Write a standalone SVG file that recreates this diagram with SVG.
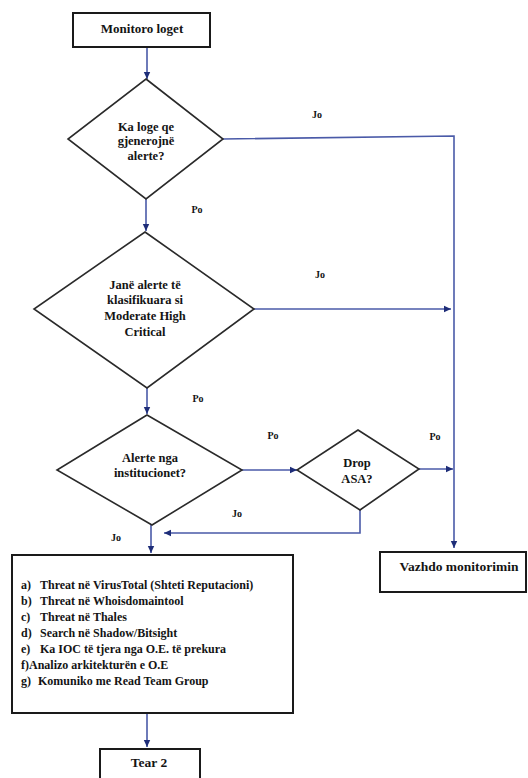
<svg xmlns="http://www.w3.org/2000/svg" width="528" height="778" viewBox="0 0 528 778">
<style>
.box{fill:#fff;stroke:#1a1a1a;stroke-width:2}
.dia{fill:#fff;stroke:#2a2a2a;stroke-width:1.6}
text{font-family:'Liberation Serif','Times New Roman',Times,'DejaVu Serif',serif;font-weight:bold;fill:#141414}
.c{text-anchor:middle}
.lbl{font-size:10px}
.dt{font-size:12.5px}
.con{fill:none;stroke:#4a5aa8;stroke-width:1.6}
</style>
<defs>
<marker id="ah" markerWidth="8" markerHeight="8" refX="7" refY="4" orient="auto" markerUnits="userSpaceOnUse">
<path d="M0,0.8 L7,4 L0,7.2 Z" fill="#1e2d78"/>
</marker>
</defs>
<rect width="528" height="778" fill="#fff"/>
<g id="connectors">
<line class="con" x1="147" y1="47" x2="147" y2="79" marker-end="url(#ah)"/>
<polyline class="con" points="223,139 454,136 454,548" marker-end="url(#ah)"/>
<line class="con" x1="146" y1="199" x2="146" y2="231" marker-end="url(#ah)"/>
<line class="con" x1="254" y1="309" x2="451" y2="309" marker-end="url(#ah)"/>
<line class="con" x1="147" y1="388" x2="147" y2="414" marker-end="url(#ah)"/>
<line class="con" x1="242" y1="470" x2="297" y2="470" marker-end="url(#ah)"/>
<line class="con" x1="419" y1="469" x2="453" y2="469" marker-end="url(#ah)"/>
<polyline class="con" points="360,510 360,533 164,533" marker-end="url(#ah)"/>
<line class="con" x1="151" y1="525" x2="151" y2="553" marker-end="url(#ah)"/>
<line class="con" x1="147" y1="714" x2="147" y2="747" marker-end="url(#ah)"/>
<text class="lbl c" x="317" y="118">Jo</text>
<text class="lbl c" x="197" y="213">Po</text>
<text class="lbl c" x="320" y="278">Jo</text>
<text class="lbl c" x="198" y="402">Po</text>
<text class="lbl c" x="273" y="439">Po</text>
<text class="lbl c" x="435" y="440">Po</text>
<text class="lbl c" x="237" y="517">Jo</text>
<text class="lbl c" x="116" y="541">Jo</text>
</g>
<g id="monitoro">
<rect class="box" x="73" y="13" width="137" height="34"/>
<text class="c" x="142" y="33" font-size="13">Monitoro loget</text>
</g>
<g id="d1">
<polygon class="dia" points="146,79 223,139 146,199 68,139"/>
<text class="c dt" x="146" y="131">Ka loge qe</text>
<text class="c dt" x="146" y="145">gjenerojnë</text>
<text class="c dt" x="146" y="160">alerte?</text>
</g>
<g id="d2">
<polygon class="dia" points="145,232 254,309 147,388 34,309"/>
<text class="c dt" x="145" y="289">Janë alerte të</text>
<text class="c dt" x="145" y="304">klasifikuara si</text>
<text class="c dt" x="145" y="320">Moderate High</text>
<text class="c dt" x="145" y="336">Critical</text>
</g>
<g id="d3">
<polygon class="dia" points="147,415 242,470 152,525 57,470"/>
<text class="c dt" x="150" y="462">Alerte nga</text>
<text class="c dt" x="150" y="477">institucionet?</text>
</g>
<g id="drop">
<polygon class="dia" points="358,430 419,469 360,510 297,470"/>
<text class="c dt" x="357" y="467">Drop</text>
<text class="c dt" x="357" y="483">ASA?</text>
</g>
<g id="vazhdo">
<rect class="box" x="380" y="552" width="146" height="40"/>
<text class="c" x="459" y="571" font-size="13.5">Vazhdo monitorimin</text>
</g>
<g id="list">
<rect class="box" x="12" y="555" width="281" height="158"/>
<g font-size="12">
<text x="21" y="589">a)</text><text x="40" y="589">Threat në VirusTotal (Shteti Reputacioni)</text>
<text x="21" y="605">b)</text><text x="40" y="605">Threat në Whoisdomaintool</text>
<text x="21" y="621">c)</text><text x="40" y="621">Threat në Thales</text>
<text x="21" y="637">d)</text><text x="40" y="637">Search në Shadow/Bitsight</text>
<text x="21" y="653">e)</text><text x="40" y="653">Ka IOC të tjera nga O.E. të prekura</text>
<text x="21" y="669">f)Analizo arkitekturën e O.E</text>
<text x="21" y="685">g)</text><text x="38" y="685">Komuniko me Read Team Group</text>
</g>
</g>
<g id="tear2">
<rect class="box" x="100" y="749" width="100" height="40"/>
<text class="c" x="149" y="767" font-size="13.5">Tear 2</text>
</g>
</svg>
